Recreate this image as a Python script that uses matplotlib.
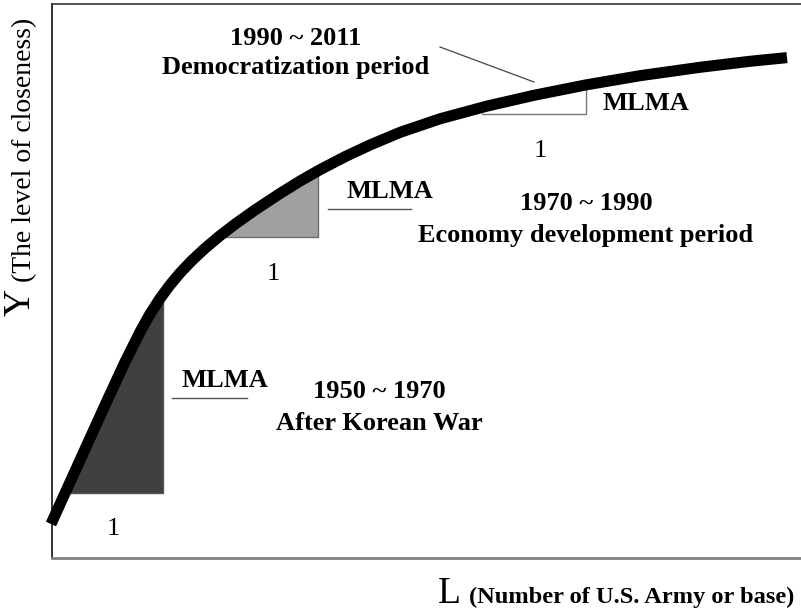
import numpy as np
import matplotlib
matplotlib.use("Agg")
import matplotlib.pyplot as plt

plt.rcParams['font.family'] = ['Liberation Serif', 'DejaVu Serif']

# curve (arbitrary units, origin at the axes corner)
L = [-1, 31, 55, 73, 88, 98, 108, 118, 128, 140, 153, 168, 183, 203, 228,
     248, 268, 293, 318, 348, 388, 435, 482, 534, 588, 648, 698, 735]
Y = [34, 104.4, 157.2, 196, 226, 244, 259.5, 273, 285, 297.6, 309.7, 322.3,
     333.8, 348, 364.5, 376.9, 388.3, 401.3, 413, 425.6, 439.2, 451.9,
     462.7, 473.1, 482.3, 490.7, 496.7, 500.4]

# slope triangles: (x start, x end, base level)
tri_dark = (10, 111, 65)
tri_gray = (170, 266, 321)
tri_light = (430, 534, 444)

years = ["1950 ~ 1970", "1970 ~ 1990", "1990 ~ 2011"]
names = ["After Korean War", "Economy development period",
         "Democratization period"]

fig = plt.figure(figsize=(8.01, 6.14), dpi=100)
ax = fig.add_axes([52 / 801, 56 / 614, 749 / 801, 554 / 614])
ax.set_xlim(0, 749)
ax.set_ylim(0, 554)
ax.set_xticks([])
ax.set_yticks([])
ax.spines['right'].set_visible(False)
ax.spines['left'].set_color('#111111')
ax.spines['left'].set_linewidth(1.2)
ax.spines['top'].set_color('#333333')
ax.spines['top'].set_linewidth(1.2)
ax.spines['bottom'].set_color('#808080')
ax.spines['bottom'].set_linewidth(2.0)


def triangle(t, face, edge):
    x0, x1, base = t
    xs = np.linspace(x0, x1, 120)
    ys = np.interp(xs, L, Y)
    top = np.maximum(ys, base)
    if face is not None:
        ax.fill_between(xs, base, top, color=face, lw=0, zorder=2)
    start = xs[np.argmax(ys > base)]
    ax.plot([start, x1, x1], [base, base, top[-1]], color=edge, lw=1.0,
            zorder=2.5)


triangle(tri_dark, '#404040', '#555555')
triangle(tri_gray, '#a0a0a0', '#6f6f6f')
triangle(tri_light, None, '#777777')

ax.plot(L, Y, color='black', lw=8, solid_capstyle='butt',
        solid_joinstyle='round', zorder=3, clip_on=False)

# pointer line to the top curve
ax.plot([388, 482], [511, 476], color='#444444', lw=0.9, zorder=2)

bold = dict(fontsize=19, fontweight='bold', ha='center', va='baseline',
            zorder=4)
reg = dict(fontsize=19, ha='center', va='baseline', zorder=4)

# period labels: (x, baseline of years, baseline of name)
ax.text(327, 160, years[0], **bold)
ax.text(327, 128, names[0], **bold)
ax.text(534, 348, years[1], **bold)
ax.text(534, 316, names[1], **bold)
ax.text(244, 513, years[2], **bold)
ax.text(244, 484, names[2], **bold)

ax.text(173, 171, "MLMA", **bold)
ax.plot([120, 195], [160, 160], color='#555555', lw=1.0)
ax.text(338, 360, "MLMA", **bold)
ax.plot([276, 359], [349, 349], color='#555555', lw=1.0)
ax.text(594, 448, "MLMA", **bold)

ax.text(61, 23, "1", **reg)
ax.text(221, 278, "1", **reg)
ax.text(488, 401, "1", **reg)

# axis labels
fig.text(20 / 801, 1 - 302 / 614, "Y", fontsize=27, rotation=90,
         ha='center', va='center')
fig.text(25 / 801, 1 - 150 / 614, "(The level of closeness)", fontsize=20,
         rotation=90, ha='center', va='center')
fig.text(449 / 801, 11 / 614, "L", fontsize=27, ha='center',
         va='baseline')
fig.text(632 / 801, 11 / 614, "(Number of U.S. Army or base)",
         fontsize=17.6, fontweight='bold', ha='center', va='baseline')

fig.savefig("out.png", dpi=100)
